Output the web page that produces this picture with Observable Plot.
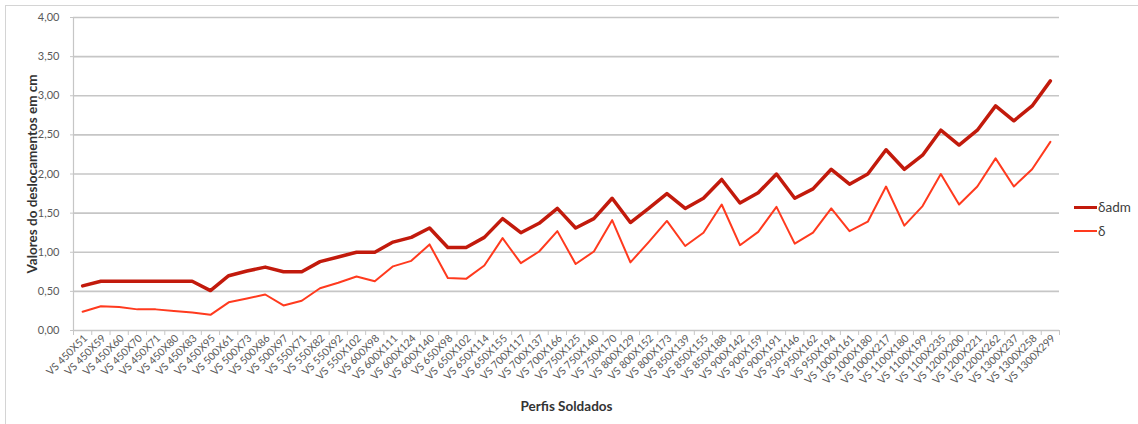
<!DOCTYPE html>
<html>
<head>
<meta charset="utf-8">
<script src="https://cdn.jsdelivr.net/npm/d3@7"></script>
<script src="https://cdn.jsdelivr.net/npm/@observablehq/plot@0.6"></script>
<style>
  html, body { margin: 0; padding: 0; background: #fff; }
  #wrap { position: relative; width: 1138px; height: 424px; overflow: hidden; font-family: Lato, "Open Sans", sans-serif; }
  #frame { position: absolute; left: 5px; top: 5px; right: -2px; bottom: -2px; border-top: 1px solid #d4d4d4; border-left: 1px solid #d4d4d4; pointer-events: none; }
  #chart { position: absolute; left: 0; top: 0; }
  #legend { position: absolute; left: 1074px; top: 195px; font-size: 13.5px; color: #404040; }
  .item { display: flex; align-items: center; height: 24px; }
  .sw { display: inline-block; width: 23px; margin-right: 1px; }
  g[aria-label="y-axis label"] text, g[aria-label="x-axis label"] text { font-weight: bold; fill: #333; }
</style>
</head>
<body>
<div id="wrap">
  <div id="frame"></div>
  <div id="chart"></div>
  <div id="legend"></div>
</div>
<script>
const labels = [
  "VS 450X51","VS 450X59","VS 450X60","VS 450X70","VS 450X71","VS 450X80","VS 450X83","VS 450X95",
  "VS 500X61","VS 500X73","VS 500X86","VS 500X97",
  "VS 550X71","VS 550X82","VS 550X92","VS 550X102",
  "VS 600X98","VS 600X111","VS 600X124","VS 600X140",
  "VS 650X98","VS 650X102","VS 650X114","VS 650X155",
  "VS 700X117","VS 700X137","VS 700X166",
  "VS 750X125","VS 750X140","VS 750X170",
  "VS 800X129","VS 800X152","VS 800X173",
  "VS 850X139","VS 850X155","VS 850X188",
  "VS 900X142","VS 900X159","VS 900X191",
  "VS 950X146","VS 950X162","VS 950X194",
  "VS 1000X161","VS 1000X180","VS 1000X217",
  "VS 1100X180","VS 1100X199","VS 1100X235",
  "VS 1200X200","VS 1200X221","VS 1200X262",
  "VS 1300X237","VS 1300X258","VS 1300X299"
];
const deltaAdm = [
  0.57,0.63,0.63,0.63,0.63,0.63,0.63,0.51,
  0.70,0.76,0.81,0.75,
  0.75,0.88,0.94,1.00,
  1.00,1.13,1.19,1.31,
  1.06,1.06,1.19,1.43,
  1.25,1.37,1.56,
  1.31,1.43,1.69,
  1.38,1.56,1.75,
  1.56,1.69,1.93,
  1.63,1.76,2.00,
  1.69,1.81,2.06,
  1.87,2.00,2.31,
  2.06,2.24,2.56,
  2.37,2.56,2.87,
  2.68,2.87,3.19
];
const delta = [
  0.24,0.31,0.30,0.27,0.27,0.25,0.23,0.20,
  0.36,0.41,0.46,0.32,
  0.38,0.54,0.61,0.69,
  0.63,0.82,0.89,1.10,
  0.67,0.66,0.83,1.18,
  0.86,1.01,1.27,
  0.85,1.01,1.41,
  0.87,1.13,1.40,
  1.08,1.25,1.61,
  1.09,1.26,1.58,
  1.11,1.25,1.56,
  1.27,1.39,1.84,
  1.34,1.59,2.00,
  1.61,1.84,2.20,
  1.84,2.06,2.41
];
const yTicks = [0, 0.5, 1, 1.5, 2, 2.5, 3, 3.5, 4];
const series = [
  {name: "δadm", values: deltaAdm, color: "#c21a0c", width: 3.5},
  {name: "δ", values: delta, color: "#ff3a1e", width: 2}
];

const idx = labels.map((_, i) => i);
const bounds = d3.range(labels.length + 1).map(i => i - 0.5);
const fmt = d => d.toFixed(2).replace(".", ",");
const grid = "#c6c6c6";

const chart = Plot.plot({
  width: 1138,
  height: 424,
  marginLeft: 73,
  marginRight: 79,
  marginTop: 17,
  marginBottom: 94,
  style: {fontFamily: "Lato, 'Open Sans', sans-serif", color: "#595959", background: "transparent", overflow: "visible"},
  x: {domain: [-0.5, labels.length - 0.5]},
  y: {domain: [0, 4]},
  marks: [
    Plot.gridY(yTicks.slice(1), {stroke: grid, strokeOpacity: 1, strokeWidth: 1.6}),
    Plot.ruleX([-0.5], {stroke: grid, strokeWidth: 1.2}),
    Plot.ruleY([0], {stroke: grid, strokeWidth: 1.4}),
    Plot.axisY(yTicks, {
      tickSize: 3, tickPadding: 11, stroke: grid, tickFormat: fmt, fontSize: 11,
      label: "Valores do deslocamentos em cm", labelAnchor: "center", labelArrow: "none", labelOffset: 46
    }),
    Plot.axisX(bounds, {tickSize: 5, stroke: grid, tickFormat: () => "", label: null}),
    Plot.axisX(idx, {
      tickSize: 0, tickPadding: 6, tickRotate: -45, tickFormat: i => labels[i], fontSize: 10.5, dx: 3,
      label: "Perfis Soldados", labelAnchor: "center", labelArrow: "none", labelOffset: 80
    }),
    ...series.slice().reverse().map(s =>
      Plot.lineY(s.values, {x: (d, i) => i, y: d => d, stroke: s.color, strokeWidth: s.width, strokeLinejoin: "round"})
    )
  ]
});
chart.querySelectorAll('g[aria-label="y-axis label"] text, g[aria-label="x-axis label"] text').forEach(t => {
  t.setAttribute("font-size", "13.5");
});
document.getElementById("chart").appendChild(chart);

const legend = document.getElementById("legend");
series.forEach(s => {
  const it = document.createElement("div");
  it.className = "item";
  const sw = document.createElement("span");
  sw.className = "sw";
  sw.style.borderTop = `${s.width}px solid ${s.color}`;
  const tx = document.createElement("span");
  tx.textContent = s.name;
  it.appendChild(sw);
  it.appendChild(tx);
  legend.appendChild(it);
});
</script>
</body>
</html>
